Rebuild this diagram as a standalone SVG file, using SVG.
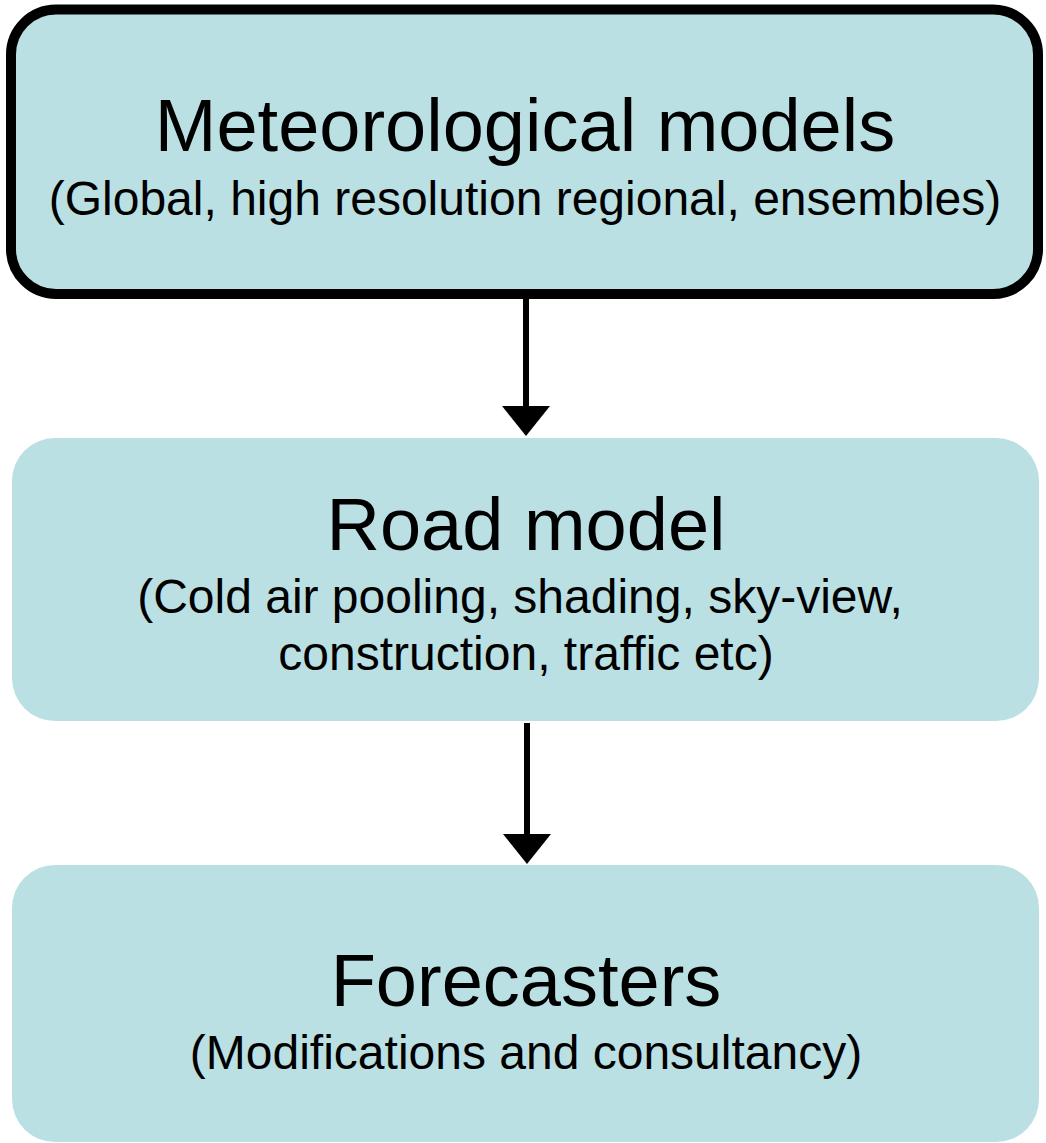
<svg xmlns="http://www.w3.org/2000/svg" width="1046" height="1143" viewBox="0 0 1046 1143">
<style>
.box{fill:#bae0e3}
.t{font-family:"Liberation Sans",Arial,sans-serif;fill:#000;text-anchor:middle}
.h{font-size:74px}
.s{font-size:48px}
.c{stroke:#000;stroke-width:6;fill:none;marker-end:url(#ah)}
</style>
<defs>
<marker id="ah" markerUnits="userSpaceOnUse" markerWidth="30" markerHeight="48" refX="0" refY="24" orient="auto" viewBox="0 0 30 48">
<path d="M0,0 L30,24 L0,48 Z" fill="#000"/>
</marker>
</defs>
<rect width="1046" height="1143" fill="#fff"/>
<g id="connectors">
<path class="c" d="M526,298 L526,406"/>
<path class="c" d="M527,723 L527,834"/>
</g>
<g id="node-meteorological">
<rect class="box" x="11" y="9.5" width="1027" height="284.5" rx="45" ry="45" stroke="#000" stroke-width="10"/>
<text class="t h" x="525" y="151">Meteorological models</text>
<text class="t s" x="525" y="215">(Global, high resolution regional, ensembles)</text>
</g>
<g id="node-road">
<rect class="box" x="12" y="438" width="1027" height="283" rx="43" ry="43"/>
<text class="t h" x="526" y="550">Road model</text>
<text class="t s" x="520" y="613">(Cold air pooling, shading, sky-view,</text>
<text class="t s" x="526" y="670">construction, traffic etc)</text>
</g>
<g id="node-forecasters">
<rect class="box" x="12" y="865" width="1027" height="277" rx="43" ry="43"/>
<text class="t h" x="526" y="1006">Forecasters</text>
<text class="t s" x="526" y="1069">(Modifications and consultancy)</text>
</g>
</svg>
